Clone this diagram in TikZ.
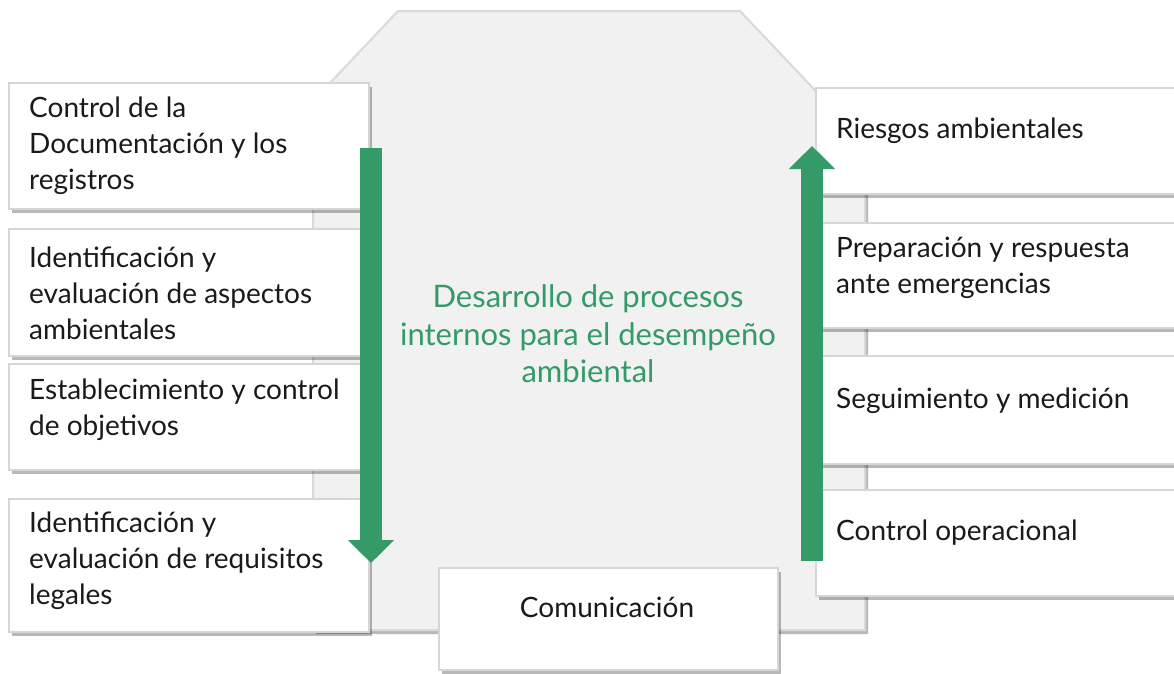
\documentclass[tikz,border=0pt]{standalone}
\usepackage{fontspec}
\setmainfont{Lato}
\usetikzlibrary{shadows,arrows.meta}
\definecolor{bggray}{HTML}{F1F1F1}
\definecolor{bgline}{HTML}{D9D9D9}
\definecolor{boxline}{HTML}{D6D6D6}
\definecolor{grn}{RGB}{52,154,104}
\definecolor{txt}{HTML}{1A1A1A}
\begin{document}
\begin{tikzpicture}[x=1pt,y=-1pt,
  shad/.style={drop shadow={shadow xshift=3pt,shadow yshift=-4pt,fill=black,opacity=0.28}},
  panel/.style={fill=bggray,draw=bgline,line width=2pt,shad},
  box/.style={draw=boxline,line width=2pt,fill=white,shad,anchor=north west,inner sep=0pt},
  lbl/.style={anchor=west,align=left,font=\fontsize{28}{36}\selectfont,text=txt,inner sep=0pt},
  ctr/.style={align=center,font=\fontsize{31}{37.5}\selectfont,text=grn,inner sep=0pt},
  flow/.style={draw=grn,line width=22pt,-{Triangle[width=45pt,length=23pt]}}
]
\useasboundingbox (0,0) rectangle (1174,673);
% background panel
\path[panel] (398,11) -- (740,11) -- (865,143) -- (865,630) -- (313,630) -- (313,101) -- cycle;
% left boxes
\node[box,minimum width=360pt,minimum height=126pt] (b1) at (8,82) {};
\node[box,minimum width=360pt,minimum height=127pt] (b2) at (8,228) {};
\node[box,minimum width=360pt,minimum height=106pt] (b3) at (8,363) {};
\node[box,minimum width=360pt,minimum height=133pt] (b4) at (8,498) {};
% right boxes
\node[box,minimum width=365pt,minimum height=106pt] (r1) at (815,87) {};
\node[box,minimum width=365pt,minimum height=105pt] (r2) at (815,222) {};
\node[box,minimum width=365pt,minimum height=108pt] (r3) at (815,355) {};
\node[box,minimum width=365pt,minimum height=106pt] (r4) at (815,489) {};
% bottom box
\node[box,minimum width=339pt,minimum height=102pt] (com) at (438,567) {};
% texts
\node[lbl] (t1) at (29,146) {Control de la\\Documentación y los\\registros};
\node[lbl] (t2) at (29,293) {Identificación y\\evaluación de aspectos\\ambientales};
\node[lbl] (t3) at (29,410) {Establecimiento y control\\de objetivos};
\node[lbl] (t4) at (29,561) {Identificación y\\evaluación de requisitos\\legales};
\node[lbl] (u1) at (836,131) {Riesgos ambientales};
\node[lbl] (u2) at (836,268) {Preparación y respuesta\\ante emergencias};
\node[lbl] (u3) at (836,401) {Seguimiento y medición};
\node[lbl] (u4) at (836,533) {Control operacional};
\node[lbl,anchor=center] (tc) at (607,607) {Comunicación};
\node[ctr] (main) at (588,334) {Desarrollo de procesos\\internos para el desempeño\\ambiental};
% arrows
\coordinate (la) at (371,148);
\coordinate (lb) at (371,563);
\coordinate (ra) at (812,561);
\coordinate (rb) at (812,146);
\draw[flow] (la) -- (lb);
\draw[flow] (ra) -- (rb);
\end{tikzpicture}
\end{document}
